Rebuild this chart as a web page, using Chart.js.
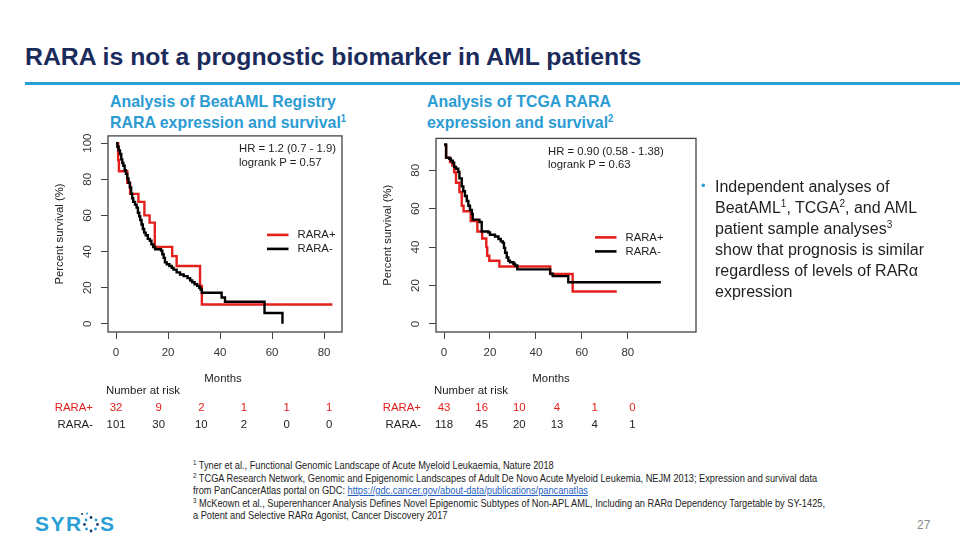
<!DOCTYPE html>
<html><head><meta charset="utf-8">
<script src="https://cdn.jsdelivr.net/npm/chart.js@4.4.1/dist/chart.umd.min.js"></script>
<style>
html,body{margin:0;padding:0;background:#fff;width:960px;height:540px;overflow:hidden;position:relative;font-family:"Liberation Sans",Arial,sans-serif;}
.abs{position:absolute;}
#title{left:25px;top:42px;font-size:24.8px;font-weight:bold;color:#1b2b5b;white-space:nowrap;line-height:30px;}
#rule{left:25px;top:82px;width:935px;height:3px;background:#2a9fd6;}
.sub{font-weight:bold;font-size:17px;line-height:21px;color:#2b9bd3;white-space:nowrap;transform:scaleX(0.935);transform-origin:0 0;}
.sub sup{font-size:10px;vertical-align:6px;line-height:0}
#bullet{left:715px;top:176px;font-size:16px;line-height:21px;color:#1f1f1f;white-space:nowrap;}
#bullet sup{font-size:10px;line-height:0;vertical-align:6px}
#dot{left:701px;top:178px;color:#2a9fd6;font-size:13px}
#notes{left:193px;top:459px;font-size:10.5px;line-height:12.5px;color:#222;white-space:nowrap;transform:scaleX(0.88);transform-origin:0 0;}
#notes sup{font-size:7px;line-height:0;vertical-align:4px}
#notes a{color:#1f5fbf;text-decoration:underline}
#pg{left:917px;top:518px;font-size:12px;color:#8a8a8a}
canvas{position:absolute}
</style></head>
<body>
<div id="title" class="abs">RARA is not a prognostic biomarker in AML patients</div>
<div id="rule" class="abs"></div>
<div class="abs sub" style="left:110px;top:91px">Analysis of BeatAML Registry<br>RARA expression and survival<sup>1</sup></div>
<div class="abs sub" style="left:427px;top:91px">Analysis of TCGA RARA<br>expression and survival<sup>2</sup></div>

<canvas id="c1" width="320" height="310" style="left:40px;top:125px"></canvas>
<canvas id="c2" width="340" height="310" style="left:368px;top:125px"></canvas>

<div id="dot" class="abs">&#8226;</div>
<div id="bullet" class="abs">Independent analyses of<br>BeatAML<sup>1</sup>, TCGA<sup>2</sup>, and AML<br>patient sample analyses<sup>3</sup><br>show that prognosis is similar<br>regardless of levels of RARα<br>expression</div>

<div id="notes" class="abs"><sup>1</sup> Tyner et al., Functional Genomic Landscape of Acute Myeloid Leukaemia, Nature 2018<br><sup>2</sup> TCGA Research Network, Genomic and Epigenomic Landscapes of Adult De Novo Acute Myeloid Leukemia, NEJM 2013; Expression and survival data<br>from PanCancerAtlas portal on GDC: <a>https://gdc.cancer.gov/about-data/publications/pancanatlas</a><br><sup>3</sup> McKeown et al., Superenhancer Analysis Defines Novel Epigenomic Subtypes of Non-APL AML, Including an RARα Dependency Targetable by SY-1425,<br>a Potent and Selective RARα Agonist, Cancer Discovery 2017</div>

<svg class="abs" style="left:34px;top:511px" width="82" height="26">
  <text x="1" y="20" font-family="Liberation Sans, Arial" font-weight="bold" font-size="21" fill="#2a9fd6" letter-spacing="1.5">SYR</text>
  <g fill="#1d3c6e">
    <circle cx="57" cy="6.5" r="1.4"/><circle cx="62" cy="9" r="1.4" fill="#2a9fd6"/><circle cx="63.5" cy="13.5" r="1.4"/>
    <circle cx="61.5" cy="18" r="1.4" fill="#2a9fd6"/><circle cx="57" cy="20" r="1.4"/><circle cx="52.5" cy="18" r="1.4" fill="#2a9fd6"/>
    <circle cx="50.5" cy="13.5" r="1.4"/><circle cx="52" cy="9" r="1.4" fill="#2a9fd6"/><circle cx="48" cy="3" r="1.1"/><circle cx="53" cy="2.5" r="1.1" fill="#2a9fd6"/>
  </g>
  <text x="66" y="20" font-family="Liberation Sans, Arial" font-weight="bold" font-size="21" fill="#2a9fd6">S</text>
</svg>
<div id="pg" class="abs">27</div>

<script>
// ---------- data ----------
const groups = ['RARA+', 'RARA-'];
const monthTicks = [0, 20, 40, 60, 80];
const beatSurvTicks = [0, 20, 40, 60, 80, 100];
const tcgaSurvTicks = [0, 20, 40, 60, 80];
const riskTimes = [0, 16.4, 32.8, 49.2, 65.6, 82];

// BeatAML (left)
const beatPosMonths = [0,0.8,1.1,4.3,5.4,8.6,10.9,12.9,14.9,21.6,23.3,32.3,33.0,83.2];
const beatPosSurv   = [100,90.6,84.4,78.1,71.9,67.5,60,56,42.6,37.5,32,21,10.7,10.7];
const beatNegMonths = [0,0.5,1.0,1.5,2.0,2.4,2.8,3.3,3.8,4.3,4.8,5.3,5.8,6.2,6.6,7.3,7.9,8.4,8.9,9.3,9.8,10.3,10.8,11.4,12.2,13.0,13.6,14.3,15.0,17.3,17.8,18.3,18.8,19.5,20.5,21.4,22.1,23.3,24.6,26.0,27.5,28.5,29.3,30.2,31.2,32.0,32.5,33.0,40.6,41.9,57.1,64.0];
const beatNegSurv   = [100,98,96,94,91,89,87.5,85,83,80.5,78,75.5,72,69.5,67.5,66,64.3,61.5,59.5,57.5,55,52.5,50.5,49,47,46,44,42.5,41.3,40.5,38.5,36.5,34,33,32,31,30,28.5,27.3,26.4,25.3,24,23,21.9,21,20,19,17.2,14.6,12.2,6.0,0];
const beatRiskPos = [32, 9, 2, 1, 1, 1];
const beatRiskNeg = [101, 30, 10, 2, 0, 0];
const beatStats = ['HR = 1.2 (0.7 - 1.9)', 'logrank P = 0.57'];

// TCGA (right)
const tcgaPosMonths = [0,0.9,2.6,3.6,4.4,5.2,6.7,7.7,8.5,11.6,14.5,16.6,18.4,18.8,19.7,24.1,46.2,56.0,75.2];
const tcgaPosSurv   = [93.1,86.5,84.3,82.5,79,73.5,68.7,61.5,58.7,53.6,48.1,44.5,40,35.5,32.9,29.9,26.0,16.9,16.9];
const tcgaNegMonths = [0,0.9,2.3,3.0,3.8,4.4,5.2,6.2,6.7,7.7,8.4,9.1,9.9,10.6,11.3,12.1,12.5,15.4,16.4,19.3,20.0,22.2,23.7,24.7,25.6,26.1,26.6,27.3,28.0,28.7,30.2,30.9,31.9,46.2,47.3,54.1,94.4];
const tcgaNegSurv   = [93.4,86.6,86.0,85,83.9,81.7,80.8,79.1,75.8,71.6,69.1,66.6,64,61.5,59.3,57.3,54.3,53.1,48.1,47.6,46.4,45.5,44.2,43,42.2,39.6,37.1,34.6,32.9,32.1,31.3,30.4,28.4,26.2,24.9,21.7,21.7];
const tcgaRiskPos = [43, 16, 10, 4, 1, 0];
const tcgaRiskNeg = [118, 45, 20, 13, 4, 1];
const tcgaStats = ['HR = 0.90 (0.58 - 1.38)', 'logrank P = 0.63'];

// ---------- styling ----------
const COLORS = ['#e3201c', '#000000'];
const FONT = '"Liberation Sans", Arial, sans-serif';

const kmDecor = {
  id: 'kmDecor',
  afterDraw(chart, args, o) {
    const {ctx, chartArea: a, scales: {x}} = chart;
    ctx.save();
    ctx.strokeStyle = '#444'; ctx.lineWidth = 1.3;
    ctx.strokeRect(a.left, a.top, a.right - a.left, a.bottom - a.top);
    ctx.font = '11.3px ' + FONT;
    ctx.fillStyle = '#222'; ctx.textBaseline = 'middle'; ctx.textAlign = 'left';
    ctx.fillText(o.stats[0], a.left + o.hrDx, a.top + 13);
    ctx.fillText(o.stats[1], a.left + o.hrDx, a.top + 26.5);
    groups.forEach((g, i) => {
      const y = a.top + 99 + i * 14;
      ctx.strokeStyle = COLORS[i]; ctx.lineWidth = 2.6;
      ctx.beginPath(); ctx.moveTo(a.left + 159, y); ctx.lineTo(a.left + 180.5, y); ctx.stroke();
      ctx.fillStyle = '#222'; ctx.fillText(g, a.left + 189.5, y);
    });
    ctx.save();
    ctx.translate(20, (a.top + a.bottom) / 2); ctx.rotate(-Math.PI / 2);
    ctx.textAlign = 'center'; ctx.fillStyle = '#222';
    ctx.fillText('Percent survival (%)', 0, 0);
    ctx.restore();
    ctx.font = '11.4px ' + FONT;
    ctx.fillStyle = '#222'; ctx.textAlign = 'center';
    ctx.fillText('Months', 183, a.bottom + 47);
    ctx.textAlign = 'left';
    ctx.fillText('Number at risk', 66, a.bottom + 59);
    o.risk.forEach((row, i) => {
      const y = a.bottom + 76 + i * 17;
      ctx.fillStyle = i === 0 ? '#e3201c' : '#222';
      ctx.textAlign = 'right'; ctx.fillText(groups[i], 53, y);
      ctx.textAlign = 'center';
      row.forEach((n, j) => ctx.fillText(String(n), x.getPixelForValue(riskTimes[j]), y));
    });
    ctx.restore();
  }
};

function pts(m, s) { return m.map((v, i) => ({x: v, y: s[i]})); }

function makeChart(id, cfg) {
  return new Chart(document.getElementById(id), {
    type: 'line',
    data: {
      datasets: [
        {label: groups[1], data: pts(cfg.negM, cfg.negS), borderColor: COLORS[1], borderWidth: 2.4, stepped: true, pointRadius: 0, fill: false},
        {label: groups[0], data: pts(cfg.posM, cfg.posS), borderColor: COLORS[0], borderWidth: 2.4, stepped: true, pointRadius: 0, fill: false}
      ]
    },
    options: {
      responsive: false, animation: false, devicePixelRatio: 1,
      layout: {padding: {top: 7, right: cfg.padR, left: 0, bottom: 0}},
      plugins: {legend: {display: false}, tooltip: {enabled: false},
        kmDecor: {stats: cfg.stats, hrDx: cfg.hrDx, risk: cfg.risk}},
      scales: {
        x: {type: 'linear', min: cfg.xMin, max: cfg.xMax,
          afterBuildTicks: s => { s.ticks = monthTicks.map(v => ({value: v})); },
          afterFit: s => { s.height = 103; },
          grid: {display: true, drawOnChartArea: false, drawTicks: true, tickLength: 7, color: '#444'},
          border: {display: false},
          ticks: {font: {size: 11.5, family: FONT}, color: '#333', padding: 7, maxRotation: 0, autoSkip: false}},
        y: {type: 'linear', min: cfg.yMin, max: cfg.yMax,
          afterBuildTicks: s => { s.ticks = cfg.yTicks.map(v => ({value: v})); },
          afterFit: s => { s.width = 68; },
          grid: {display: true, drawOnChartArea: false, drawTicks: true, tickLength: 7, color: '#444'},
          border: {display: false},
          ticks: {font: {size: 11.5, family: FONT}, color: '#333', padding: cfg.yPad, minRotation: 90, maxRotation: 90, crossAlign: 'center', autoSkip: false}}
      }
    },
    plugins: [kmDecor]
  });
}

makeChart('c1', {negM: beatNegMonths, negS: beatNegSurv, posM: beatPosMonths, posS: beatPosSurv,
  stats: beatStats, risk: [beatRiskPos, beatRiskNeg], hrDx: 131, padR: 18,
  xMin: -3.1, xMax: 86.9, yMin: -4.5, yMax: 104, yTicks: beatSurvTicks, yPad: 4});
makeChart('c2', {negM: tcgaNegMonths, negS: tcgaNegSurv, posM: tcgaPosMonths, posS: tcgaPosSurv,
  stats: tcgaStats, risk: [tcgaRiskPos, tcgaRiskNeg], hrDx: 112, padR: 12,
  xMin: -3.5, xMax: 109.7, yMin: -4.2, yMax: 96.6, yTicks: tcgaSurvTicks, yPad: 6.5});
</script>
</body></html>
